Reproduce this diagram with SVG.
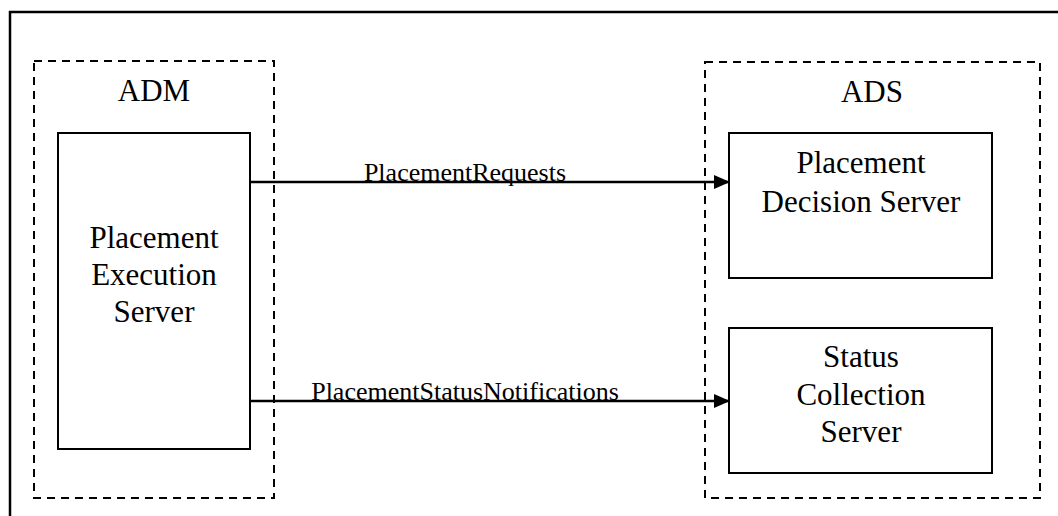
<svg xmlns="http://www.w3.org/2000/svg" width="1058" height="516" viewBox="0 0 1058 516">
<defs>
<style>
.frame{fill:none;stroke:#000;stroke-width:2.5}
.group{fill:none;stroke:#000;stroke-width:2;stroke-dasharray:8,6}
.box{fill:#fff;stroke:#000;stroke-width:2}
.t{font-family:"Liberation Serif","Times New Roman",serif;font-size:31px;fill:#000;text-anchor:middle}
.lbl{font-family:"Liberation Serif","Times New Roman",serif;font-size:26px;fill:#000;text-anchor:middle}
.conn{stroke:#000;stroke-width:2.5;fill:none;marker-end:url(#arr)}
</style>
<marker id="arr" markerWidth="16" markerHeight="14" refX="15" refY="7" orient="auto" markerUnits="userSpaceOnUse">
<path d="M0,0 L16,7 L0,14 Z" fill="#000"/>
</marker>
</defs>
<rect width="1058" height="516" fill="#fff"/>
<path class="frame" d="M10,520 L10,12 L1062,12"/>
<g id="ADM">
<rect class="group" x="34" y="61" width="240" height="437"/>
<text class="t" x="154" y="101">ADM</text>
</g>
<g id="ADS">
<rect class="group" x="705" y="62" width="335" height="436"/>
<text class="t" x="872" y="102">ADS</text>
</g>
<g id="PES">
<rect class="box" x="58" y="133" width="192" height="316"/>
<text class="t" x="154" y="248">Placement</text>
<text class="t" x="154" y="285">Execution</text>
<text class="t" x="154" y="322">Server</text>
</g>
<g id="PDS">
<rect class="box" x="729" y="133" width="263" height="145"/>
<text class="t" x="861" y="173">Placement</text>
<text class="t" x="861" y="212">Decision Server</text>
</g>
<g id="SCS">
<rect class="box" x="729" y="328" width="263" height="145"/>
<text class="t" x="861" y="367">Status</text>
<text class="t" x="861" y="405">Collection</text>
<text class="t" x="861" y="442">Server</text>
</g>
<g id="connectors">
<line class="conn" x1="250" y1="182" x2="729" y2="182"/>
<text class="lbl" x="465" y="181">PlacementRequests</text>
<line class="conn" x1="250" y1="401" x2="729" y2="401"/>
<text class="lbl" x="465" y="400">PlacementStatusNotifications</text>
</g>
</svg>
